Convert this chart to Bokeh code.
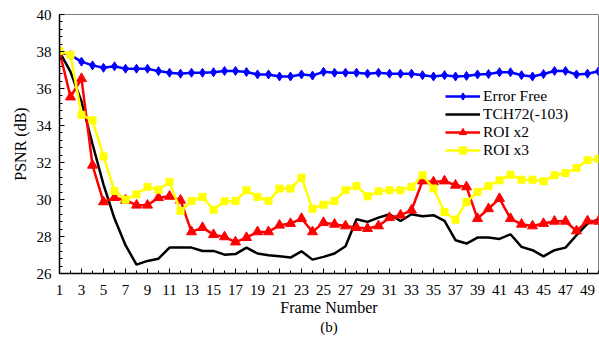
from bokeh.plotting import figure
from bokeh.models import FixedTicker, Legend, LegendItem, LinearAxis, Range1d
from bokeh.embed import file_html
from bokeh.resources import INLINE

# PSNR per frame (dB) for each decoding scenario
frames = list(range(1, 51))

error_free = [38.0, 37.8, 37.45, 37.25, 37.12, 37.2, 37.07, 37.07, 37.07, 36.94,
              36.85, 36.8, 36.85, 36.85, 36.88, 36.95, 36.95, 36.89, 36.76, 36.76,
              36.65, 36.65, 36.76, 36.7, 36.9, 36.85, 36.85, 36.85, 36.8, 36.85,
              36.8, 36.8, 36.8, 36.72, 36.65, 36.72, 36.65, 36.68, 36.76, 36.78,
              36.88, 36.88, 36.72, 36.65, 36.78, 36.95, 36.95, 36.76, 36.8, 36.93]

tch72 = [38.0, 36.9, 35.3, 33.0, 30.8, 28.97, 27.53, 26.48, 26.68, 26.8,
         27.4, 27.4, 27.4, 27.22, 27.22, 27.02, 27.05, 27.4, 27.08, 26.99,
         26.93, 26.86, 27.2, 26.75, 26.9, 27.08, 27.47, 28.93, 28.79, 29.02,
         29.2, 28.84, 29.2, 29.09, 29.15, 28.84, 27.8, 27.62, 27.94, 27.94,
         27.87, 28.12, 27.44, 27.26, 26.93, 27.26, 27.4, 28.07, 28.7, 28.93]

roi_x2 = [38.0, 35.54, 36.53, 31.85, 29.87, 30.1, 29.96, 29.69, 29.69, 30.1,
          30.17, 29.96, 28.25, 28.48, 28.1, 27.98, 27.7, 27.94, 28.25, 28.25,
          28.61, 28.7, 28.97, 28.25, 28.75, 28.66, 28.57, 28.48, 28.43, 28.57,
          29.02, 29.15, 29.42, 31.0, 30.95, 31.0, 30.77, 30.68, 28.97, 29.5,
          30.05, 28.97, 28.66, 28.57, 28.7, 28.82, 28.82, 28.3, 28.84, 28.82]

roi_x3 = [38.02, 37.82, 34.58, 34.28, 32.33, 30.46, 29.99, 30.28, 30.68, 30.53,
          30.95, 29.38, 29.92, 30.14, 29.45, 29.9, 29.92, 30.5, 30.14, 29.92,
          30.59, 30.59, 31.18, 29.5, 29.72, 29.92, 30.5, 30.73, 30.17, 30.44,
          30.5, 30.5, 30.68, 31.31, 30.59, 29.32, 28.91, 29.87, 30.41, 30.73,
          31.04, 31.34, 31.07, 31.07, 30.98, 31.31, 31.43, 31.7, 32.12, 32.2]

x_tick_labels = list(range(1, 50, 2))
y_ticks = list(range(26, 41, 2))

SERIF = "Liberation Serif"

p = figure(width=599, height=338, output_backend="svg", toolbar_location=None,
           x_range=Range1d(1, 50), y_range=Range1d(26, 40),
           min_border_left=59, min_border_right=1, min_border_top=14,
           min_border_bottom=65)

p.background_fill_color = "white"
p.border_fill_color = "white"
p.outline_line_color = "#7f7f7f"
p.outline_line_width = 1
p.xgrid.visible = False
p.ygrid.visible = False

# axes: ticks pointing inward, serif text
p.xaxis.ticker = FixedTicker(ticks=x_tick_labels, minor_ticks=frames)
p.yaxis.ticker = FixedTicker(ticks=y_ticks,
                             minor_ticks=[26 + 0.4 * i for i in range(36)])
for ax in (p.xaxis[0], p.yaxis[0]):
    ax.axis_line_color = "black"
    ax.axis_line_width = 1.5
    ax.major_tick_line_color = "black"
    ax.minor_tick_line_color = "black"
    ax.major_tick_in = 5
    ax.major_tick_out = 0
    ax.minor_tick_in = 3
    ax.minor_tick_out = 0
    ax.major_label_text_font = SERIF
    ax.major_label_text_font_size = "15px"
    ax.major_label_text_color = "black"
    ax.axis_label_text_font = SERIF
    ax.axis_label_text_font_size = "16px"
    ax.axis_label_text_font_style = "normal"
    ax.axis_label_text_color = "black"

p.xaxis.axis_label = "Frame Number"
p.xaxis.major_label_standoff = 11
p.xaxis.axis_label_standoff = 1
p.yaxis.axis_label = "PSNR (dB)"
p.yaxis.major_label_standoff = 8
p.yaxis.axis_label_standoff = 5

# panel caption "(b)": a bare axis below the main one, carrying only its label
caption_axis = LinearAxis(ticker=FixedTicker(ticks=[]), axis_label="(b)")
caption_axis.axis_line_color = None
caption_axis.major_tick_line_color = None
caption_axis.minor_tick_line_color = None
caption_axis.major_label_text_font_size = "0px"
caption_axis.major_label_standoff = 0
caption_axis.axis_label_standoff = 0
caption_axis.axis_label_text_font = SERIF
caption_axis.axis_label_text_font_size = "15px"
caption_axis.axis_label_text_font_style = "normal"
caption_axis.axis_label_text_color = "black"
p.add_layout(caption_axis, "below")

lw = 2.5
l_ef = p.line(frames, error_free, line_color="#0000ff", line_width=lw)
m_ef = p.scatter(frames, error_free, marker="diamond", size=9,
                 fill_color="#0000ff", line_color="#0000ff")

l_tch = p.line(frames, tch72, line_color="black", line_width=lw)

l_r2 = p.line(frames, roi_x2, line_color="#ff0000", line_width=lw)
m_r2 = p.scatter(frames, roi_x2, marker="triangle", size=10,
                 fill_color="#ff0000", line_color="#ff0000")

l_r3 = p.line(frames, roi_x3, line_color="#ffff00", line_width=lw)
m_r3 = p.scatter(frames, roi_x3, marker="square", size=7,
                 fill_color="#ffff00", line_color="#ffff00")

legend = Legend(items=[
    LegendItem(label="Error Free", renderers=[l_ef, m_ef]),
    LegendItem(label="TCH72(-103)", renderers=[l_tch]),
    LegendItem(label="ROI x2", renderers=[l_r2, m_r2]),
    LegendItem(label="ROI x3", renderers=[l_r3, m_r3]),
], location=(386, 114))
legend.border_line_alpha = 0
legend.background_fill_alpha = 0
legend.padding = 0
legend.margin = 0
legend.spacing = 0
legend.glyph_width = 35
legend.glyph_height = 18
legend.label_height = 18
legend.label_standoff = 3
legend.label_text_font = SERIF
legend.label_text_font_size = "15.5px"
legend.label_text_color = "black"
p.add_layout(legend, "center")

open("out.html", "w").write(file_html(p, INLINE))
